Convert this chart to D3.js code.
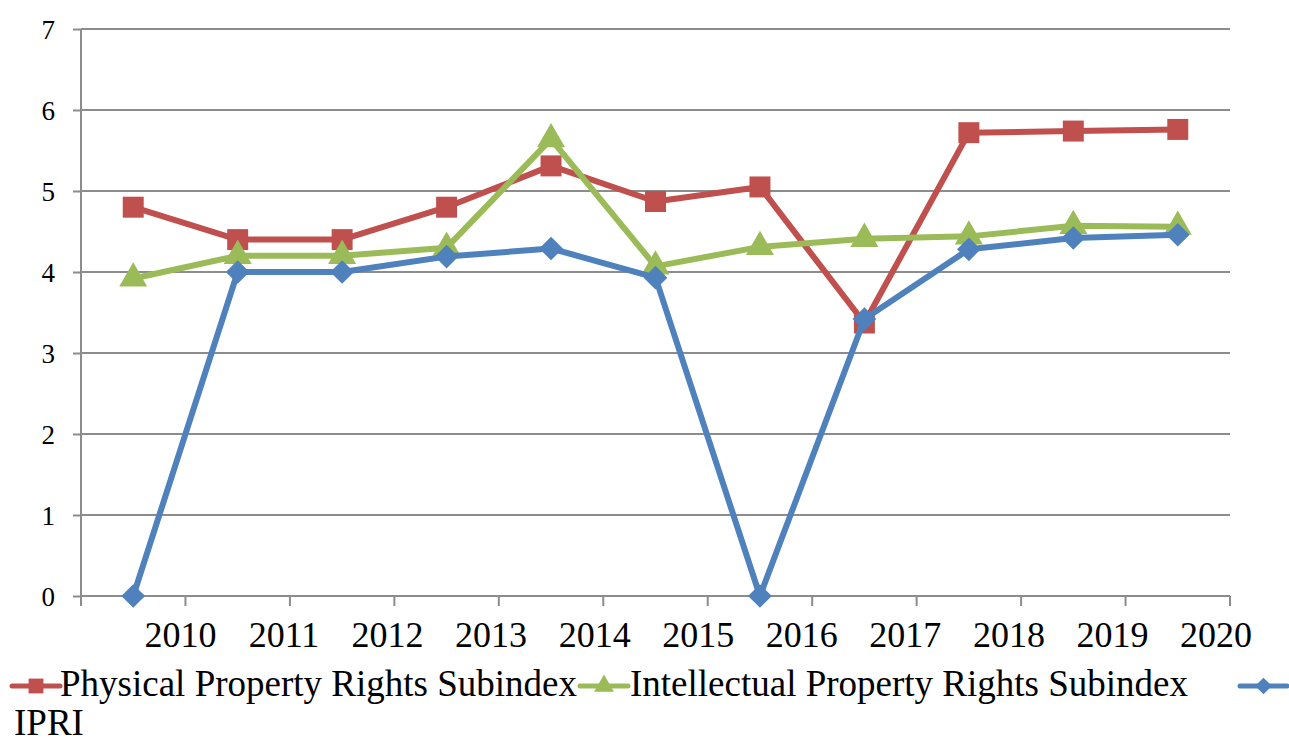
<!DOCTYPE html>
<html>
<head>
<meta charset="utf-8">
<script src="https://cdn.jsdelivr.net/npm/d3@7"></script>
<style>
body { margin: 0; background: #fff; }
svg { display: block; }
</style>
</head>
<body>
<div id="chart"></div>
<script>
const years = ['2010','2011','2012','2013','2014','2015','2016','2017','2018','2019','2020'];
const physical = [4.8, 4.4, 4.4, 4.8, 5.31, 4.87, 5.05, 3.37, 5.72, 5.74, 5.76];
const intellectual = [3.92, 4.2, 4.2, 4.3, 5.64, 4.07, 4.31, 4.41, 4.44, 4.57, 4.56];
const ipri = [0, 4.0, 4.0, 4.19, 4.29, 3.93, 0, 3.42, 4.28, 4.42, 4.46];
const yTicks = [0,1,2,3,4,5,6,7];

const series = [
  {name: 'Physical Property Rights Subindex', values: physical, color: '#C0504D', sym: d3.symbolSquare, size: 440, rot: 0},
  {name: 'Intellectual Property Rights Subindex', values: intellectual, color: '#9BBB59', sym: d3.symbolTriangle, size: 340, rot: 0},
  {name: 'IPRI', values: ipri, color: '#4F81BD', sym: d3.symbolSquare, size: 280, rot: 45}
];

const width = 1289, height = 744;
const pad = {left: 81, right: 59, top: 29, bottom: 148};
const font = '"Liberation Serif", Tinos, "DejaVu Serif", serif';

const svg = d3.select('#chart').append('svg')
  .attr('width', width).attr('height', height)
  .style('font-family', font);

const x = d3.scaleBand().domain(years).range([pad.left, width-pad.right]);
const y = d3.scaleLinear().domain([0,7]).range([height-pad.bottom, pad.top]);

// grid
svg.append('g').selectAll('line').data(yTicks.filter(t => t>0)).enter()
  .append('line')
  .attr('x1', pad.left).attr('x2', width-pad.right)
  .attr('y1', d => y(d)).attr('y2', d => y(d))
  .attr('stroke', '#8c8c8c').attr('stroke-width', 2);

// y axis
const ya = svg.append('g').attr('transform', 'translate('+pad.left+',0)')
  .call(d3.axisLeft(y).tickValues(yTicks).tickSize(8).tickFormat(d3.format('d')));
ya.attr('font-size', null).attr('font-family', null);
ya.select('.domain').attr('stroke', '#8c8c8c').attr('stroke-width', 2).attr('d', 'M0,'+y(0)+'V'+y(7));
ya.selectAll('.tick line').attr('stroke', '#8c8c8c').attr('stroke-width', 2);
ya.selectAll('.tick text').attr('font-size', 27).attr('x', -26).attr('dy', '0.36em')
  .style('font-family', font);

// x axis: ticks at category edges, year labels under the right edge of each category
const edges = years.map(d => x(d)).concat([x(years[years.length-1]) + x.bandwidth()]);
const xa = svg.append('g');
xa.append('line').attr('x1', pad.left).attr('x2', width-pad.right)
  .attr('y1', y(0)).attr('y2', y(0)).attr('stroke', '#8c8c8c').attr('stroke-width', 2);
xa.selectAll('line.tk').data(edges).enter().append('line').attr('class','tk')
  .attr('x1', d => d).attr('x2', d => d).attr('y1', y(0)).attr('y2', y(0)+10)
  .attr('stroke', '#8c8c8c').attr('stroke-width', 2);
xa.selectAll('text').data(years).enter().append('text')
  .attr('x', (d,i) => x(d) + x.bandwidth() - 5 - i*0.9)
  .attr('y', y(0) + 51)
  .attr('text-anchor', 'middle').attr('font-size', 36)
  .style('font-family', font)
  .text(d => d);

// lines and markers
const cx = i => x(years[i]) + x.bandwidth()/2;
series.forEach(s => {
  const g = svg.append('g');
  g.append('path')
    .attr('d', d3.line().x((v,i) => cx(i)).y(v => y(v))(s.values))
    .attr('fill', 'none').attr('stroke', s.color).attr('stroke-width', 6)
    .attr('stroke-linejoin', 'round');
  g.selectAll('path.m').data(s.values).enter().append('path').attr('class','m')
    .attr('transform', (v,i) => 'translate('+cx(i)+','+y(v)+') rotate('+s.rot+')')
    .attr('d', d3.symbol().type(s.sym).size(s.size))
    .attr('fill', s.color);
});

// legend
const leg = [
  {x0: 12, x1: 60, ty: 696, lx: 60},
  {x0: 580, x1: 628, ty: 696, lx: 630},
  {x0: 1240, x1: 1287, ty: 735, lx: 14}
];
series.forEach((s,i) => {
  const l = leg[i];
  const g = svg.append('g');
  g.append('line').attr('x1', l.x0).attr('x2', l.x1).attr('y1', 686).attr('y2', 686)
    .attr('stroke', s.color).attr('stroke-width', 5).attr('stroke-linecap', 'round');
  g.append('path').attr('transform', 'translate('+((l.x0+l.x1)/2)+',686) rotate('+s.rot+')')
    .attr('d', d3.symbol().type(s.sym).size(s.size*0.5)).attr('fill', s.color);
  g.append('text').attr('x', l.lx).attr('y', l.ty).attr('font-size', 37)
    .style('font-family', font).text(s.name);
});
</script>
</body>
</html>
